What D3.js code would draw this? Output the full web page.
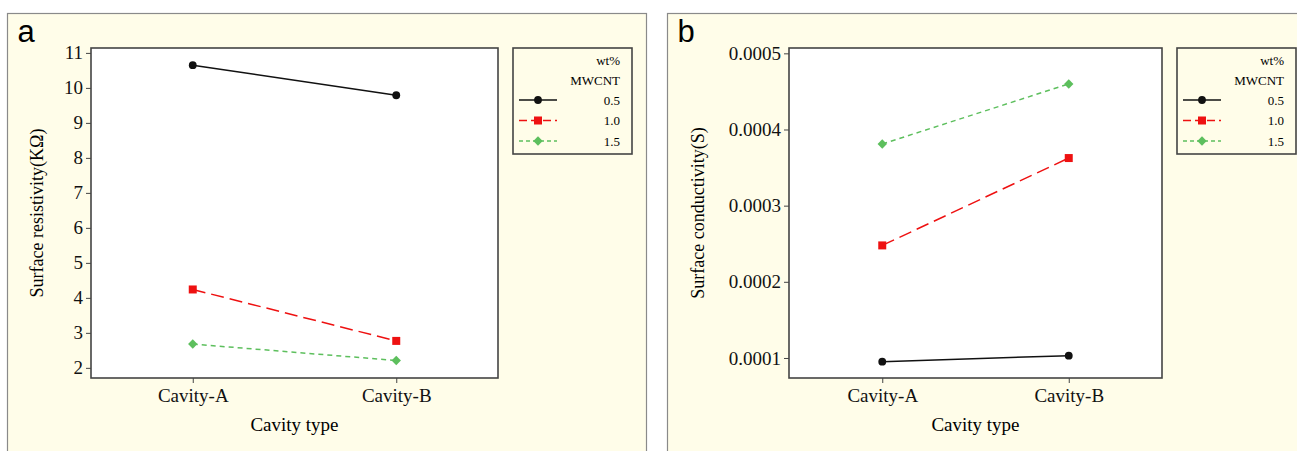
<!DOCTYPE html>
<html>
<head>
<meta charset="utf-8">
<script src="https://cdn.jsdelivr.net/npm/d3@7"></script>
<style>
  body { margin: 0; background: #fff; }
  svg { display: block; }
</style>
</head>
<body>
<svg id="chart" width="1297" height="451"></svg>
<script>
// datos
var cavidades = ["Cavity-A", "Cavity-B"];
var series = ["0.5", "1.0", "1.5"];

var resistividad05 = [10.65, 9.79];
var resistividad10 = [4.24, 2.77];
var resistividad15 = [2.68, 2.21];

var conductividad05 = [0.0000952, 0.000103];
var conductividad10 = [0.0002478, 0.0003625];
var conductividad15 = [0.0003810, 0.0004598];

var ticksResistividad = [2, 3, 4, 5, 6, 7, 8, 9, 10, 11];
var ticksConductividad = [0.0001, 0.0002, 0.0003, 0.0004, 0.0005];

var estilos = [
    { color: "#111111", dash: null, forma: d3.symbolCircle, tam: 48 },
    { color: "#ee1111", dash: "13,6", forma: d3.symbolSquare, tam: 64 },
    { color: "#5dbf5d", dash: "5,4", forma: d3.symbolDiamond2, tam: 56 }
];

var svg = d3.select("#chart");
var serif = "'Liberation Serif', 'Times New Roman', serif";

function construirPanel(cfg) {
    // marco del panel
    svg.append("rect")
        .attr("x", cfg.px).attr("y", 13.5)
        .attr("width", cfg.pw).attr("height", 460)
        .attr("fill", "#fffde9")
        .attr("stroke", "#8a8a8a").attr("stroke-width", 1.2);

    svg.append("text")
        .attr("x", cfg.px + 10).attr("y", 42)
        .attr("font-family", "'Liberation Sans', Arial, sans-serif")
        .attr("font-size", 31)
        .text(cfg.letra);

    var x = d3.scalePoint().domain(cavidades).range([cfg.left, cfg.right]).padding(0.5);
    var y = d3.scaleLinear().domain(cfg.dominio).range([cfg.bottom, cfg.top]);

    svg.append("rect")
        .attr("x", cfg.left).attr("y", cfg.top)
        .attr("width", cfg.right - cfg.left).attr("height", cfg.bottom - cfg.top)
        .attr("fill", "#fff")
        .attr("stroke", "#444").attr("stroke-width", 1.6);

    var ejeY = svg.append("g")
        .attr("transform", "translate(" + cfg.left + ",0)")
        .call(d3.axisLeft(y).tickValues(cfg.ticks).tickSize(5).tickPadding(3)
            .tickFormat(cfg.formato))
        .attr("font-family", serif).attr("font-size", 19);
    ejeY.select(".domain").remove();
    ejeY.selectAll("line").attr("stroke", "#444");
    ejeY.selectAll("text").attr("fill", "#111");

    var ejeX = svg.append("g")
        .attr("transform", "translate(0," + cfg.bottom + ")")
        .call(d3.axisBottom(x).tickSize(5).tickPadding(6))
        .attr("font-family", serif).attr("font-size", 19);
    ejeX.select(".domain").remove();
    ejeX.selectAll("line").attr("stroke", "#444");
    ejeX.selectAll("text").attr("fill", "#111");

    svg.append("text")
        .attr("x", (cfg.left + cfg.right) / 2).attr("y", 431)
        .attr("text-anchor", "middle")
        .attr("font-family", serif).attr("font-size", 19)
        .text("Cavity type");

    svg.append("text")
        .attr("transform", "translate(" + cfg.tituloX + "," + (cfg.top + cfg.bottom) / 2 + ") rotate(-90)")
        .attr("text-anchor", "middle")
        .attr("dy", "0.35em")
        .attr("font-family", serif).attr("font-size", 18)
        .text(cfg.titulo);

    var linea = d3.line()
        .x(function (d, i) { return x(cavidades[i]); })
        .y(function (d) { return y(d); });

    cfg.valores.forEach(function (vals, s) {
        var e = estilos[s];
        svg.append("path")
            .datum(vals)
            .attr("d", linea)
            .attr("fill", "none")
            .attr("stroke", e.color)
            .attr("stroke-width", 1.5)
            .attr("stroke-dasharray", e.dash);
        svg.selectAll(null)
            .data(vals)
            .enter().append("path")
            .attr("transform", function (d, i) { return "translate(" + x(cavidades[i]) + "," + y(d) + ")"; })
            .attr("d", d3.symbol().type(e.forma).size(e.tam))
            .attr("fill", e.color);
    });

    // leyenda
    var lg = svg.append("g").attr("transform", "translate(" + cfg.lx + ",48)");
    lg.append("rect")
        .attr("x", 0).attr("y", 0).attr("width", 119).attr("height", 106)
        .attr("fill", "none").attr("stroke", "#444").attr("stroke-width", 1.6);
    var textoDer = 107;
    lg.append("text").attr("x", textoDer).attr("y", 17).attr("text-anchor", "end")
        .attr("font-family", serif).attr("font-size", 13).text("wt%");
    lg.append("text").attr("x", textoDer).attr("y", 37).attr("text-anchor", "end")
        .attr("font-family", serif).attr("font-size", 13).text("MWCNT");
    series.forEach(function (nombre, s) {
        var e = estilos[s];
        var yy = 52 + s * 20.5;
        lg.append("line")
            .attr("x1", 6).attr("x2", 44).attr("y1", yy).attr("y2", yy)
            .attr("stroke", e.color).attr("stroke-width", 1.5)
            .attr("stroke-dasharray", e.dash ? (s === 1 ? "8,4" : "4,3") : null);
        lg.append("path")
            .attr("transform", "translate(25," + yy + ")")
            .attr("d", d3.symbol().type(e.forma).size(e.tam))
            .attr("fill", e.color);
        lg.append("text").attr("x", textoDer).attr("y", yy + 4.5).attr("text-anchor", "end")
            .attr("font-family", serif).attr("font-size", 13).text(nombre);
    });
}

construirPanel({
    letra: "a", px: 7.5, pw: 639,
    left: 91, right: 498, top: 48, bottom: 378,
    dominio: [1.71, 11.14], ticks: ticksResistividad,
    formato: d3.format("d"),
    titulo: "Surface resistivity(KΩ)", tituloX: 37,
    valores: [resistividad05, resistividad10, resistividad15],
    lx: 513
});

construirPanel({
    letra: "b", px: 667.5, pw: 640,
    left: 789, right: 1162, top: 48, bottom: 378,
    dominio: [0.0000737, 0.000507], ticks: ticksConductividad,
    formato: d3.format(".4f"),
    titulo: "Surface conductivity(S)", tituloX: 698,
    valores: [conductividad05, conductividad10, conductividad15],
    lx: 1177
});
</script>
</body>
</html>
